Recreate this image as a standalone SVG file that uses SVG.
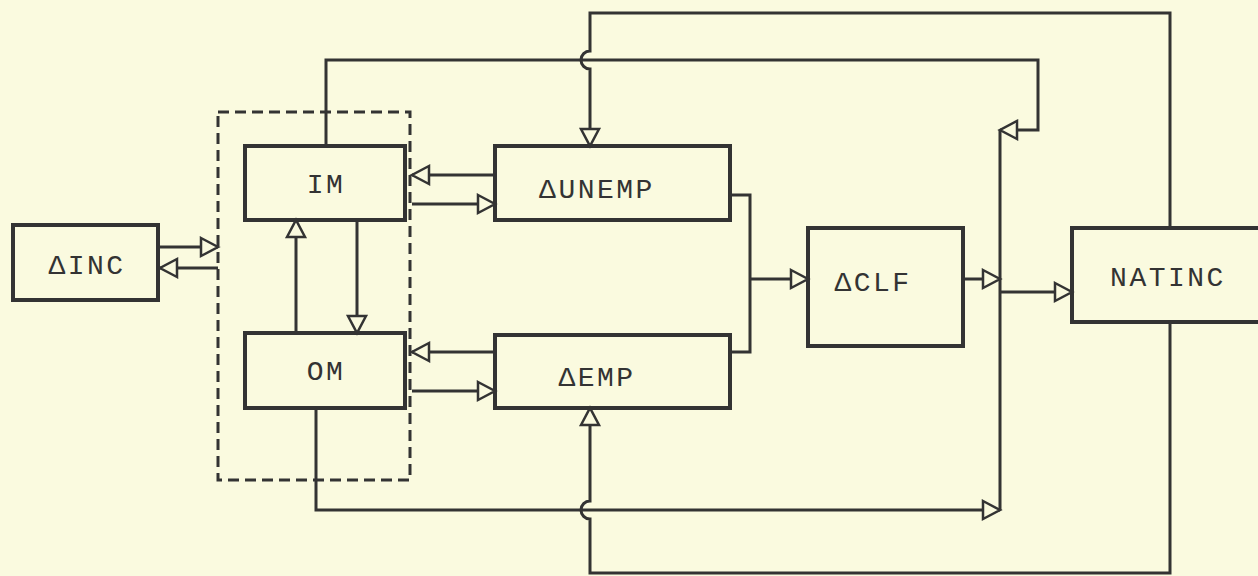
<svg xmlns="http://www.w3.org/2000/svg" width="1258" height="576" viewBox="0 0 1258 576">
<style>
.bg{fill:#fafadf}
.box{fill:none;stroke:#333;stroke-width:4}
.ln{fill:none;stroke:#333;stroke-width:3}
.dash{fill:none;stroke:#333;stroke-width:3;stroke-dasharray:11 6}
.t{font-family:"Liberation Mono","DejaVu Sans Mono",monospace;font-size:28px;letter-spacing:2.5px;fill:#333;text-anchor:middle;dominant-baseline:central}
</style>
<defs>
<marker id="a" markerUnits="userSpaceOnUse" markerWidth="24" markerHeight="24" viewBox="-2 -2 24 24" refX="18" refY="9" orient="auto">
<path d="M1,0 L18,9 L1,18 z" fill="#fafadf" stroke="#333" stroke-width="2.5"/>
</marker>
</defs>
<rect class="bg" x="0" y="0" width="1258" height="576"/>
<g id="connectors">
<path class="ln" marker-end="url(#a)" d="M160,247 L218,247"/>
<path class="ln" marker-end="url(#a)" d="M218,268 L160,268"/>
<path class="ln" marker-end="url(#a)" d="M495,175 L412,175"/>
<path class="ln" marker-end="url(#a)" d="M412,204 L495,204"/>
<path class="ln" marker-end="url(#a)" d="M495,352 L412,352"/>
<path class="ln" marker-end="url(#a)" d="M412,391 L495,391"/>
<path class="ln" marker-end="url(#a)" d="M296,333 L296,220"/>
<path class="ln" marker-end="url(#a)" d="M357,220 L357,333"/>
<path class="ln" marker-end="url(#a)" d="M326,146 L326,60 L1038,60 L1038,130 L1000,130"/>
<path class="ln" marker-end="url(#a)" d="M1170,228 L1170,13 L590,13 L590,51 A9,9 0 0 0 590,69 L590,146"/>
<path class="ln" marker-end="url(#a)" d="M1170,322 L1170,573 L590,573 L590,519 A9,9 0 0 1 590,501 L590,408"/>
<path class="ln" marker-end="url(#a)" d="M316,408 L316,510 L1000,510"/>
<path class="ln" d="M1000,130 L1000,510"/>
<path class="ln" d="M730,195 L750,195 L750,352 L730,352"/>
<path class="ln" marker-end="url(#a)" d="M750,279 L808,279"/>
<path class="ln" marker-end="url(#a)" d="M963,279 L1000,279"/>
<path class="ln" marker-end="url(#a)" d="M1000,292 L1072,292"/>
</g>
<g id="group-box"><rect class="dash" x="218" y="112" width="192" height="368"/></g>
<g id="dinc"><rect class="box" x="13" y="225" width="145" height="75"/><text class="t" x="87" y="266">ΔINC</text></g>
<g id="im"><rect class="box" x="245" y="146" width="160" height="74"/><text class="t" x="326" y="185">IM</text></g>
<g id="om"><rect class="box" x="245" y="333" width="160" height="75"/><text class="t" x="326" y="372">OM</text></g>
<g id="dunemp"><rect class="box" x="495" y="146" width="235" height="74"/><text class="t" x="597" y="190">ΔUNEMP</text></g>
<g id="demp"><rect class="box" x="495" y="335" width="235" height="73"/><text class="t" x="597" y="378">ΔEMP</text></g>
<g id="dclf"><rect class="box" x="808" y="228" width="155" height="118"/><text class="t" x="873" y="283">ΔCLF</text></g>
<g id="natinc"><rect class="box" x="1072" y="228" width="200" height="94"/><text class="t" x="1168" y="278">NATINC</text></g>
</svg>
